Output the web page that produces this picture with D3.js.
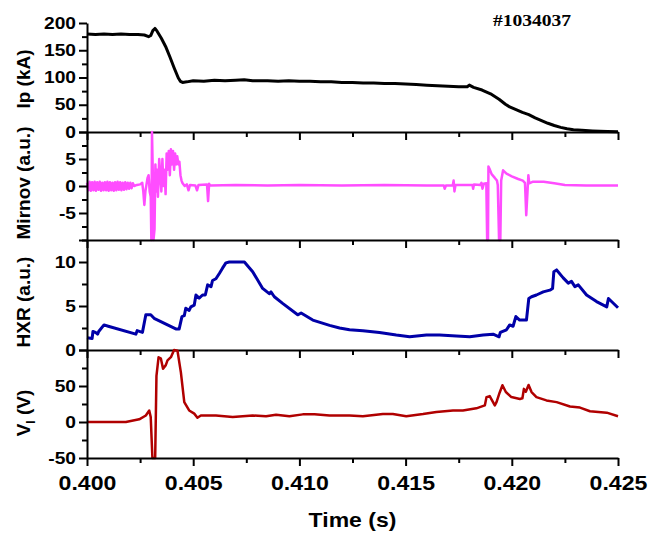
<!DOCTYPE html>
<html><head><meta charset="utf-8">
<script src="https://cdn.jsdelivr.net/npm/d3@7"></script>
<style>
body{margin:0;background:#fff}
svg text{font-family:Arial,"Liberation Sans",sans-serif;font-weight:bold;fill:#000}
.ylab{transform-box:fill-box;transform-origin:right center;transform:scaleX(1.2)}
.xlab{transform-box:fill-box;transform-origin:center center;transform:scaleX(1.1)}
.wide{transform-box:fill-box;transform-origin:center center;transform:scaleX(1.15)}
</style></head><body><svg id="c" width="662" height="533"></svg>
<script>
// ---------- data ----------
const timeTicks = [0.400, 0.405, 0.410, 0.415, 0.420, 0.425];
const timeMinor = [0.4025, 0.4075, 0.4125, 0.4175, 0.4225];

const ipTicks = [0, 50, 100, 150, 200];
const ipMinor = [25, 75, 125, 175];
const mirTicks = [-10, -5, 0, 5, 10];
const mirLabels = [-5, 0, 5];
const mirMinor = [-7.5, -2.5, 2.5, 7.5];
const hxrTicks = [0, 5, 10];
const hxrMinor = [2.5, 7.5, 12.5];
const vTicks = [-50, 0, 50, 100];
const vLabels = [-50, 0, 50];
const vMinor = [-25, 25, 75];

const ipData = [[0.4000,180],[0.4004,179],[0.4008,180],[0.4012,179],[0.4016,180],[0.4020,179],[0.4024,179],[0.4027,178],[0.4029,175],[0.4030,177],[0.4031,186],[0.4032,190],[0.4033,185],[0.4035,172],[0.4037,157],[0.4039,138],[0.4041,118],[0.4043,99],[0.4044,93],[0.4045,91],[0.4047,92],[0.4050,94],[0.4055,93],[0.4060,95],[0.4065,94],[0.4070,95],[0.4074,96],[0.4078,94],[0.4085,94],[0.4090,93],[0.4095,94],[0.4100,93],[0.4105,93],[0.4110,92],[0.4115,92],[0.4120,91],[0.4125,91],[0.4130,90],[0.4135,90],[0.4140,89],[0.4145,89],[0.4150,88],[0.4155,87],[0.4160,86],[0.4165,85],[0.4170,84],[0.4175,83],[0.4179,83],[0.4180,86],[0.4182,82],[0.4186,77],[0.4190,70],[0.4194,60],[0.4197,51],[0.4199,46],[0.4202,41],[0.4205,36],[0.4208,32],[0.4211,26],[0.4214,21],[0.4217,16],[0.4220,12],[0.4223,8.5],[0.4226,6],[0.4229,4],[0.4233,3],[0.4238,2],[0.4245,1],[0.4250,0.5]];

const mirnovData = [[0.40000,0.6],[0.40006,-0.8],[0.40012,0.8],[0.40018,-0.9],[0.40024,0.7],[0.40030,-0.8],[0.40036,0.8],[0.40042,-0.9],[0.40048,0.7],[0.40054,-0.7],[0.40060,0.8],[0.40066,-0.9],[0.40072,0.6],[0.40078,-0.8],[0.40084,0.7],[0.40090,-0.8],[0.40096,0.8],[0.40102,-0.9],[0.40108,0.7],[0.40114,-0.8],[0.40120,0.6],[0.40126,-0.9],[0.40132,0.7],[0.40138,-0.8],[0.40144,0.8],[0.40150,-0.7],[0.40156,0.7],[0.40162,-0.8],[0.40168,0.6],[0.40174,-0.7],[0.40180,0.7],[0.40186,-0.6],[0.40192,0.6],[0.40198,-0.5],[0.40204,0.6],[0.40210,-0.4],[0.40216,0.5],[0.40222,0.0],[0.40235,0.2],[0.40250,0.3],[0.40260,0.6],[0.40265,-1],[0.40270,-3.5],[0.40275,-1],[0.40285,1.5],[0.40290,2],[0.40295,-1],[0.40300,-2],[0.40303,-10],[0.40306,10],[0.40310,2],[0.40313,-10],[0.40318,-8],[0.40322,4],[0.40326,-1],[0.40330,3],[0.40334,-2],[0.40340,5],[0.40345,2],[0.40350,-1],[0.40355,5],[0.40360,0],[0.40365,3],[0.40370,-1.5],[0.40375,6],[0.40380,3],[0.40385,6.5],[0.40390,2],[0.40395,6.8],[0.40400,4],[0.40405,6.5],[0.40410,3],[0.40415,6],[0.40420,4],[0.40425,5.5],[0.40430,4],[0.40435,4.5],[0.40440,2],[0.40445,1],[0.40450,0.5],[0.40460,0],[0.40470,0.3],[0.40478,-0.8],[0.40485,0.2],[0.40510,0.1],[0.40518,-0.8],[0.40525,0.2],[0.40565,0.3],[0.40570,-2.8],[0.40575,0.4],[0.40580,0.1],[0.4070,0.2],[0.4085,0.1],[0.4100,0.2],[0.4120,0.1],[0.4140,0.2],[0.4160,0.1],[0.41680,0.1],[0.41684,-0.5],[0.41690,0.1],[0.41722,0.1],[0.41726,1],[0.41730,-1],[0.41735,0.2],[0.41815,0.2],[0.41818,-0.5],[0.41822,0.3],[0.41852,0.2],[0.41857,0.6],[0.41862,-0.5],[0.41868,0.4],[0.41880,0.5],[0.41884,-10],[0.41888,-10],[0.41890,3.6],[0.41895,3.2],[0.41905,2.2],[0.41920,1.5],[0.41930,1],[0.41934,0.2],[0.41940,-10],[0.41946,-10],[0.41950,1],[0.41959,2.9],[0.41975,2.3],[0.42000,1.8],[0.42030,1.3],[0.42052,1],[0.42062,0.6],[0.42068,-5.4],[0.42074,-1],[0.42078,2],[0.42082,0.5],[0.42100,0.8],[0.42150,0.8],[0.42200,0.5],[0.42250,0.2],[0.42350,0.1],[0.42500,0.1]];

const hxrData = [[0.40000,1.4],[0.40024,1.3],[0.40028,2.1],[0.40040,2.0],[0.40050,1.8],[0.40055,2.1],[0.40080,2.85],[0.40100,2.7],[0.40230,1.8],[0.40236,2.2],[0.40261,2.0],[0.40277,4.0],[0.40300,4.0],[0.40316,3.6],[0.40418,2.4],[0.40434,2.4],[0.40447,3.8],[0.40458,3.9],[0.40465,4.75],[0.40481,4.5],[0.40489,4.9],[0.40505,5.1],[0.40513,6.25],[0.40528,5.9],[0.40544,6.25],[0.40557,6.25],[0.40568,7.4],[0.40584,7.2],[0.40591,7.9],[0.40607,8.1],[0.40623,8.7],[0.40638,9.3],[0.40654,9.9],[0.40670,10],[0.40741,10],[0.40780,8.9],[0.40827,7.0],[0.40858,6.4],[0.40866,6.6],[0.40882,6.05],[0.40921,5.3],[0.40992,4.0],[0.41008,4.2],[0.41063,3.4],[0.41142,2.8],[0.41189,2.5],[0.41236,2.3],[0.41299,2.2],[0.41377,2.0],[0.41456,1.7],[0.41519,1.5],[0.41598,1.7],[0.41660,1.7],[0.41739,1.6],[0.41802,1.5],[0.41865,1.7],[0.41912,1.8],[0.41940,1.5],[0.41946,2.0],[0.41975,2.3],[0.41990,2.85],[0.42006,2.7],[0.42019,3.8],[0.42037,3.4],[0.42069,3.4],[0.42080,5.85],[0.42093,6.05],[0.42116,6.25],[0.42148,6.6],[0.42179,6.8],[0.42192,7.0],[0.42198,8.9],[0.42211,9.1],[0.42242,8.2],[0.42266,7.6],[0.42281,7.8],[0.42297,7.2],[0.42313,7.4],[0.42352,6.25],[0.42399,5.5],[0.42447,4.9],[0.42455,5.85],[0.42500,4.8]];

const vlData = [[0.40000,0],[0.40183,0],[0.40246,3.7],[0.40277,9],[0.40293,16],[0.40300,7],[0.40308,-50],[0.40321,-50],[0.40327,64],[0.40337,90],[0.40348,88],[0.40358,74],[0.40371,79],[0.40379,85.6],[0.40395,90],[0.40410,101],[0.40426,99],[0.40442,69],[0.40458,27.6],[0.40481,16],[0.40505,11.6],[0.40520,6],[0.40536,9],[0.40607,9],[0.40686,7],[0.40780,9],[0.40843,8],[0.40890,10],[0.40953,8],[0.41016,10.6],[0.41071,10.6],[0.41142,9],[0.41236,9],[0.41299,8],[0.41393,11],[0.41440,11],[0.41503,8],[0.41582,11],[0.41645,14],[0.41723,16],[0.41770,16],[0.41833,19],[0.41873,23],[0.41881,34.6],[0.41896,36],[0.41920,23],[0.41928,27.6],[0.41943,41],[0.41956,51],[0.41972,41.6],[0.41998,34.6],[0.42038,32],[0.42050,33],[0.42057,46],[0.42066,42],[0.42079,51.5],[0.42093,41.6],[0.42116,34.6],[0.42163,30],[0.42211,27.6],[0.42274,21.6],[0.42321,20],[0.42368,15],[0.42447,13],[0.42500,8]];

// ---------- layout ----------
const svg = d3.select('#c');
const X0 = 87, X1 = 618;
const x = d3.scaleLinear().domain([0.400, 0.425]).range([X0, X1]);

const panels = [
  {data: ipData, color: '#000000', lw: 3, domain: [0, 200], top: 23, bottom: 132, ticks: ipTicks, labels: ipTicks, minor: ipMinor, title: 'Ip (kA)', cy: 79},
  {data: mirnovData, color: '#ff4dff', lw: 2.5, domain: [-10, 10], top: 132, bottom: 240, ticks: mirTicks, labels: mirLabels, minor: mirMinor, title: 'Mirnov (a.u.)', cy: 183},
  {data: hxrData, color: '#0000a8', lw: 3, domain: [0, 12.5], top: 240, bottom: 350, ticks: hxrTicks, labels: hxrTicks, minor: hxrMinor, title: 'HXR (a.u.)', cy: 302},
  {data: vlData, color: '#b00000', lw: 2.5, domain: [-50, 100], top: 350, bottom: 458, ticks: vTicks, labels: vLabels, minor: vMinor, title: null, cy: 413}
];

panels.forEach((p, i) => {
  const y = d3.scaleLinear().domain(p.domain).range([p.bottom, p.top]).clamp(true);
  const line = d3.line().x(d => x(d[0])).y(d => y(d[1]));
  svg.append('path').datum(p.data).attr('d', line)
    .attr('fill', 'none').attr('stroke', p.color).attr('stroke-width', p.lw)
    .attr('stroke-linejoin', 'round');

  // left axis
  const gl = svg.append('g').attr('transform', `translate(${X0},0)`)
    .call(d3.axisLeft(y).tickValues(p.ticks).tickSize(8).tickSizeOuter(0).tickPadding(3)
      .tickFormat(d => p.labels.includes(d) ? d : ''));
  gl.selectAll('text').attr('class', 'ylab').style('font-size', '16px').style('font-weight', 'bold');
  const gm = svg.append('g').attr('transform', `translate(${X0},0)`)
    .call(d3.axisLeft(y).tickValues(p.minor).tickSize(5).tickFormat(''));
  gm.select('.domain').remove();

  // bottom axis
  const last = i === panels.length - 1;
  const gb = svg.append('g').attr('transform', `translate(0,${p.bottom})`)
    .call(d3.axisBottom(x).tickValues(timeTicks).tickSize(8).tickSizeOuter(0).tickPadding(9)
      .tickFormat(last ? d3.format('.3f') : ''));
  gb.selectAll('text').attr('class', 'xlab').style('font-size', '21px');
  const gbm = svg.append('g').attr('transform', `translate(0,${p.bottom})`)
    .call(d3.axisBottom(x).tickValues(timeMinor).tickSize(5).tickFormat(''));
  gbm.select('.domain').remove();

  if (p.title) {
    svg.append('text').attr('transform', `translate(30,${p.cy}) rotate(-90)`)
      .attr('text-anchor', 'middle').style('font-size', '19px').text(p.title);
  } else {
    const t = svg.append('text').attr('transform', `translate(30,${p.cy}) rotate(-90)`)
      .attr('text-anchor', 'middle').style('font-size', '19px');
    t.append('tspan').text('V');
    t.append('tspan').attr('dy', 5).style('font-size', '12px').text('l');
    t.append('tspan').attr('dy', -5).text(' (V)');
  }
});

svg.selectAll('.domain, .tick line').attr('stroke', '#000').attr('stroke-width', 2);

svg.append('text').attr('class', 'wide').attr('x', (X0 + X1) / 2).attr('y', 527).attr('text-anchor', 'middle')
  .style('font-size', '20px').text('Time (s)');

svg.append('text').attr('class', 'wide').attr('x', 532).attr('y', 26).attr('text-anchor', 'middle')
  .style('font-family', '"Times New Roman","Liberation Serif",serif').style('font-size', '17px')
  .text('#1034037');
</script></body></html>
